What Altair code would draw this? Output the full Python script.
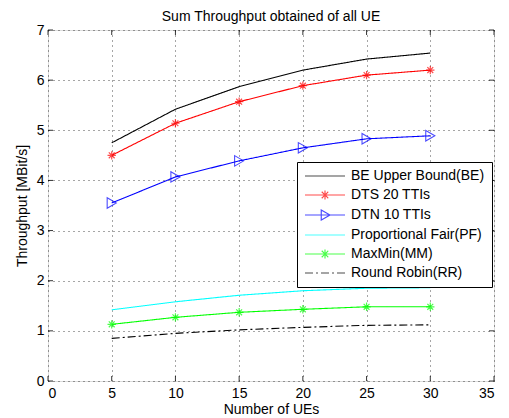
import altair as alt
import pandas as pd

x_vals = [5, 10, 15, 20, 25, 30]
series_names = ["BE Upper Bound(BE)", "DTS 20 TTIs", "DTN 10 TTIs",
                "Proportional Fair(PF)", "MaxMin(MM)", "Round Robin(RR)"]
be = [4.75, 5.42, 5.87, 6.20, 6.42, 6.54]
dts = [4.50, 5.14, 5.57, 5.89, 6.10, 6.20]
dtn = [3.55, 4.07, 4.39, 4.65, 4.83, 4.89]
pf = [1.42, 1.58, 1.71, 1.80, 1.85, 1.86]
mm = [1.13, 1.27, 1.37, 1.43, 1.48, 1.48]
rr = [0.85, 0.95, 1.02, 1.07, 1.11, 1.12]
colors = ["#000000", "#ff0000", "#0000ff", "#00ffff", "#00ff00", "#000000"]
dashes = [[1, 0], [1, 0], [1, 0], [1, 0], [1, 0], [8, 3, 2, 3]]
x_ticks = [0, 5, 10, 15, 20, 25, 30, 35]
y_ticks = [0, 1, 2, 3, 4, 5, 6, 7]

values = [be, dts, dtn, pf, mm, rr]
rows = []
for name, vals in zip(series_names, values):
    for xv, yv in zip(x_vals, vals):
        rows.append({"series": name, "x": xv, "y": yv})
df = pd.DataFrame(rows)

W, H = 446, 351
FONT = "Liberation Sans"
FS = 14

xscale = alt.Scale(domain=[0, 35], nice=False, zero=False)
yscale = alt.Scale(domain=[0, 7], nice=False, zero=False)

xaxis = alt.Axis(values=x_ticks, title="Number of UEs", grid=True, gridDash=[1, 4],
                 gridColor="#000000", gridOpacity=0.7, tickSize=0, labelPadding=5,
                 domain=False, titlePadding=2, labelFontSize=FS, titleFontSize=FS,
                 titleFontWeight="normal", labelColor="#000", titleColor="#000", labelFont=FONT, titleFont=FONT)
yaxis = alt.Axis(values=y_ticks, title="Throughput [MBit/s]", grid=True, gridDash=[1, 4],
                 gridColor="#000000", gridOpacity=0.7, tickSize=0, labelPadding=4,
                 domain=False, titlePadding=7, labelFontSize=FS, titleFontSize=FS,
                 titleFontWeight="normal", labelColor="#000", titleColor="#000", labelFont=FONT, titleFont=FONT)

# legend symbols: line segment combined with the marker
sym_line = "M-4,0L4,0"
sym_star = sym_line + "M-0.9,0L0.9,0M0,-0.9L0,0.9M-0.65,-0.65L0.65,0.65M-0.65,0.65L0.65,-0.65"
sym_tri = sym_line + "M-0.75,-1L1,0L-0.75,1Z"
legend_shapes = [sym_line, sym_star, sym_tri, sym_line, sym_star, sym_line]

color_scale = alt.Scale(domain=series_names, range=colors)
dash_scale = alt.Scale(domain=series_names, range=dashes)

base = alt.Chart(df)
lines = base.mark_line(strokeWidth=1.1, clip=True).encode(
    x=alt.X("x:Q", scale=xscale, axis=xaxis),
    y=alt.Y("y:Q", scale=yscale, axis=yaxis),
    stroke=alt.Stroke("series:N", scale=color_scale, sort=series_names),
    strokeDash=alt.StrokeDash("series:N", scale=dash_scale, sort=series_names),
    detail="series:N",
)

legend_def = alt.Legend(title=None, orient="none", legendX=249, legendY=132,
                        symbolSize=100, symbolStrokeWidth=1.2, symbolFillColor="transparent",
                        labelFontSize=FS, labelFont=FONT, labelColor="#000",
                        rowPadding=5, padding=7, strokeColor="#000",
                        fillColor="#ffffff", labelLimit=300, symbolOffset=14,
                        labelOffset=19)
# hidden layer (clipped outside the plot) that only carries the legend
legend_layer = base.transform_calculate(yh="-10").mark_point(
    filled=False, clip=True, strokeWidth=1.2).encode(
    x=alt.X("x:Q", scale=xscale),
    y=alt.Y("yh:Q", scale=yscale),
    stroke=alt.Stroke("series:N", scale=color_scale, sort=series_names, legend=legend_def),
    shape=alt.Shape("series:N", scale=alt.Scale(domain=series_names, range=legend_shapes),
                    sort=series_names, legend=legend_def),
    strokeDash=alt.StrokeDash("series:N", scale=dash_scale, sort=series_names, legend=legend_def),
)

asterisk = "M-1,0L1,0M0,-1L0,1M-0.7,-0.7L0.7,0.7M-0.7,0.7L0.7,-0.7"
star_df = df[df["series"].isin(["DTS 20 TTIs", "MaxMin(MM)"])]
stars = alt.Chart(star_df).mark_point(shape=asterisk, size=70, strokeWidth=1.2, filled=False).encode(
    x=alt.X("x:Q", scale=xscale),
    y=alt.Y("y:Q", scale=yscale),
    stroke=alt.Stroke("series:N", scale=color_scale),
)
tri_df = df[df["series"] == "DTN 10 TTIs"]
tris = alt.Chart(tri_df).mark_point(shape="triangle-right", size=110, strokeWidth=1.1,
                                    filled=False, color="#0000ff").encode(
    x=alt.X("x:Q", scale=xscale),
    y=alt.Y("y:Q", scale=yscale),
)

# inside ticks (MATLAB style)
xt = pd.DataFrame({"t": x_ticks})
yt = pd.DataFrame({"t": y_ticks})
tb = alt.Chart(xt).mark_rule(color="#000", strokeWidth=0.8).encode(
    x=alt.X("t:Q", scale=xscale), y=alt.value(H), y2=alt.value(H - 5))
tt = alt.Chart(xt).mark_rule(color="#000", strokeWidth=0.8).encode(
    x=alt.X("t:Q", scale=xscale), y=alt.value(0), y2=alt.value(5))
tl = alt.Chart(yt).mark_rule(color="#000", strokeWidth=0.8).encode(
    y=alt.Y("t:Q", scale=yscale), x=alt.value(0), x2=alt.value(5))
tr = alt.Chart(yt).mark_rule(color="#000", strokeWidth=0.8).encode(
    y=alt.Y("t:Q", scale=yscale), x=alt.value(W), x2=alt.value(W - 5))

chart = alt.layer(legend_layer, lines, stars, tris, tb, tt, tl, tr).properties(
    width=W, height=H,
    autosize=alt.AutoSizeParams(type="none"),
    padding={"left": 40, "top": 22, "right": 7, "bottom": 36},
    title=alt.TitleParams("Sum Throughput obtained of all UE", fontSize=FS, font=FONT,
                          fontWeight="normal", color="#000", offset=-1),
).configure_view(stroke="#000", strokeWidth=1).configure(background="#ffffff")

chart.save("out.html", embed_options={"renderer": "svg", "actions": False})
